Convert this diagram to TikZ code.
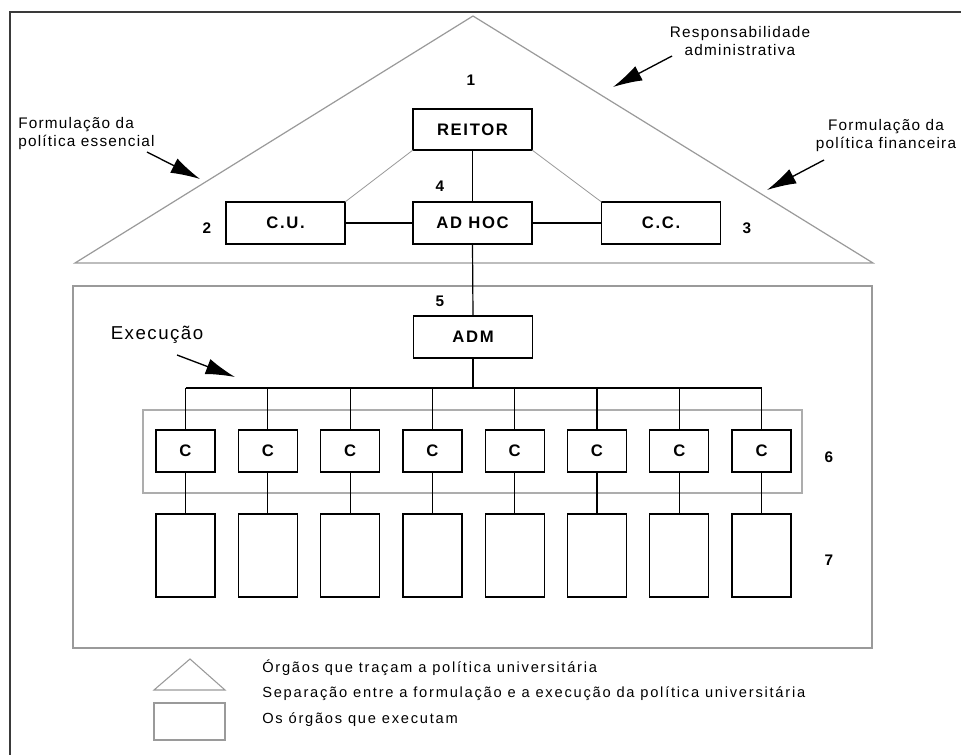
\documentclass[tikz,border=0pt]{standalone}
\usepackage{fontspec}
\setmainfont{Liberation Sans}
\newfontfamily\annotfont[LetterSpace=8]{Liberation Sans}
\newfontfamily\boxfont[LetterSpace=10]{Liberation Sans}
\newfontfamily\legendfont[LetterSpace=12]{Liberation Sans}
\usetikzlibrary{arrows.meta}
\definecolor{framegray}{HTML}{3A3A3A}
\definecolor{sepgray}{HTML}{9A9A9A}
\definecolor{groupgray}{HTML}{ADADAD}
\tikzset{
  orgbox/.style={draw=black, line width=1pt, inner sep=0pt, outer sep=0pt,
    minimum width=89.25pt, minimum height=31.5pt,
    font=\boxfont\fontsize{12.5}{14}\selectfont\bfseries},
  cbox/.style={orgbox, minimum width=44.25pt},
  unitbox/.style={draw=black, line width=1pt, inner sep=0pt, outer sep=0pt,
    minimum width=44.25pt, minimum height=62.25pt},
  link/.style={draw=black, line width=0.9pt},
  slant/.style={draw=sepgray, line width=0.6pt},
  sep/.style={draw=sepgray, line width=0.9pt},
  num/.style={font=\boxfont\fontsize{11.5}{13}\selectfont\bfseries, inner sep=0pt},
  annot/.style={font=\annotfont\fontsize{11.5}{13.5}\selectfont, inner sep=0pt},
  legendtxt/.style={font=\legendfont\fontsize{11}{13}\selectfont, inner sep=0pt, anchor=west},
  pointer/.style={draw=black, line width=1pt, -{Latex[length=22pt,width=12pt]}}
}
\begin{document}
\begin{tikzpicture}[x=0.75pt, y=-0.75pt]
\useasboundingbox[fill=white] (0,0) rectangle (961,755);

% outer frame
\draw[framegray, line width=1.3pt] (961,12) -- (10,12) -- (10,760);

% policy-making triangle and execution frame
\draw[sep] (75,263) -- (473,16) -- (873,263) -- cycle;
\draw[sep] (73,286) rectangle (872,648);
\draw[groupgray, line width=1.1pt] (143,410) rectangle (802,493);

% upper bodies
\node[orgbox, minimum height=30.75pt] (reitor) at (472.5,129.5) {REITOR};
\node[orgbox] (adhoc) at (472.5,223) {AD HOC};
\node[orgbox] (cu) at (285.5,223) {C.U.};
\node[orgbox] (cc) at (661,223) {C.C.};
\node[orgbox] (adm) at (473,337) {ADM};

\draw[link] (reitor.south) -- (adhoc.north);
\draw[link] (cu.east) -- (adhoc.west);
\draw[link] (adhoc.east) -- (cc.west);
\draw[slant] (reitor.south west) -- (cu.north east);
\draw[slant] (reitor.south east) -- (cc.north west);
\draw[link] (adhoc.south) -- (adm.north);

% executing units
\coordinate (bus) at (0,388);
\foreach \i in {1,...,8} {
  \pgfmathsetmacro{\xc}{185.5+(\i-1)*82.3}
  \node[cbox] (c\i) at (\xc,451) {C};
  \node[unitbox] (u\i) at (\xc,555.5) {};
  \draw[link] (c\i.north) -- (c\i.north |- bus);
  \draw[link] (c\i.south) -- (u\i.north);
}
\draw[link] (c1.north |- bus) -- (c8.north |- bus);
\draw[link] (adm.south) -- (adm.south |- bus);

% level numbers
\node[num] (n1) at (471,80) {1};
\node[num] (n2) at (207,228) {2};
\node[num] (n3) at (747,228) {3};
\node[num] (n4) at (440,186) {4};
\node[num] (n5) at (440,301) {5};
\node[num] (n6) at (829,457) {6};
\node[num] (n7) at (829,560) {7};

% annotations
\node[annot, align=left, anchor=west] (essencial) at (18,134) {Formulação da\\política essencial};
\node[annot, align=center] (resp) at (740,41) {Responsabilidade\\administrativa};
\node[annot, align=center] (fin) at (886,136) {Formulação da\\política financeira};
\node[font=\annotfont\fontsize{14}{16}\selectfont, inner sep=0pt] (exec) at (157,335) {Execução};

\coordinate (essA) at (147,152); \coordinate (essB) at (200,179);
\coordinate (respA) at (672,56); \coordinate (respB) at (613,87);
\coordinate (finA) at (824,160); \coordinate (finB) at (767,190);
\coordinate (execA) at (177,355); \coordinate (execB) at (235,377);
\draw[pointer] (essA) -- (essB);
\draw[pointer] (respA) -- (respB);
\draw[pointer] (finA) -- (finB);
\draw[pointer] (execA) -- (execB);

% legend
\draw[sepgray, line width=0.8pt] (154,690) -- (190,659) -- (225,690) -- cycle;
\draw[sepgray, line width=0.8pt] (154,703) rectangle (225,740);
\node[legendtxt] (l1) at (262,668) {Órgãos que traçam a política universitária};
\node[legendtxt] (l2) at (262,694) {Separação entre a formulação e a execução da política universitária};
\node[legendtxt] (l3) at (262,720) {Os órgãos que executam};
\end{tikzpicture}
\end{document}
